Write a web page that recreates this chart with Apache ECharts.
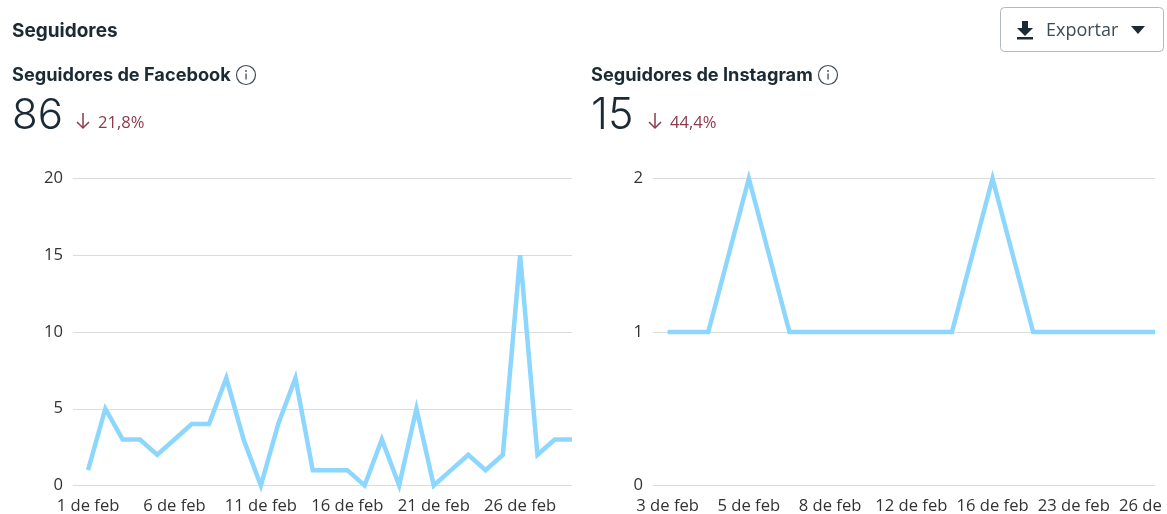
<!DOCTYPE html>
<html>
<head>
<meta charset="utf-8">
<style>html,body{margin:0;padding:0;background:#fff;overflow:hidden}#c{width:1167px;height:514px}</style>
<script src="https://cdn.jsdelivr.net/npm/echarts@6/dist/echarts.min.js"></script>
</head>
<body>
<div id="c"></div>
<script>
var fbDays = [1,2,3,4,5,6,7,8,9,10,11,12,13,14,15,16,17,18,19,20,21,22,23,24,25,26,27,28,29];
var fbValues = [1,5,3,3,2,3,4,4,7,3,0,4,7,1,1,1,0,3,0,5,0,1,2,1,2,15,2,3,3];
var fbTicks = [0,5,10,15,20];
var igDays = [3,4,5,7,8,10,12,14,16,20,23,25,26];
var igValues = [1,1,2,1,1,1,1,1,2,1,1,1,1];
var igTicks = [0,1,2];
var sectionTitle = 'Seguidores';
var exportLabel = 'Exportar';
var fbTitle = 'Seguidores de Facebook';
var igTitle = 'Seguidores de Instagram';
var fbTotal = '86', fbDelta = '21,8%';
var igTotal = '15', igDelta = '44,4%';

var ink = '#1c2b33', red = '#8c3a4c', lineCol = '#8dd7ff', gridCol = '#dadde0';
var uiFont = 'Inter, "Noto Sans", sans-serif';
var axisFont = '"Open Sans", "Noto Sans", sans-serif';
function idx(arr){ return arr.map(function(_, i){ return i; }); }
function dayLabel(d){ return d + ' de feb'; }
function txt(s, x, y, size, weight, col, font){
  return {type:'text', x:x, y:y, z:10, style:{text:s, fontSize:size, fontWeight:weight, fill:col, fontFamily:font||uiFont, verticalAlign:'middle', align:'left'}};
}
function info(cx, cy){
  return [
    {type:'circle', shape:{cx:cx, cy:cy, r:9.5}, z:10, style:{fill:'none', stroke:'#3f4c55', lineWidth:1.2}},
    {type:'rect', shape:{x:cx-0.6, y:cy-1.5, width:1.3, height:6}, z:10, style:{fill:'#3f4c55'}},
    {type:'circle', shape:{cx:cx, cy:cy-4, r:0.9}, z:10, style:{fill:'#3f4c55'}}
  ];
}
function arrow(cx, top, bottom){
  return {type:'polyline', z:10, shape:{points:[[cx,top],[cx,bottom]]}, style:{stroke:red, lineWidth:1.5, fill:'none'}};
}
function arrowHead(cx, bottom){
  return {type:'polyline', z:10, shape:{points:[[cx-6,bottom-6],[cx,bottom],[cx+6,bottom-6]]}, style:{stroke:red, lineWidth:1.5, fill:'none'}};
}
function xAxis(gridIndex, min, max, days, step){
  var shown = idx(days).filter(function(i){ return i % step === 0; });
  return {
    type:'value', gridIndex:gridIndex, min:min, max:max,
    axisLine:{show:false}, axisTick:{show:false}, splitLine:{show:false},
    axisLabel:{
      customValues:shown, margin:12, fontSize:16.6, color:'#333', fontFamily:axisFont,
      showMinLabel:true, showMaxLabel:true, hideOverlap:false,
      formatter:function(v){ return dayLabel(days[Math.round(v)]); }
    }
  };
}
function yAxis(gridIndex, ticks){
  return {
    type:'value', gridIndex:gridIndex, min:ticks[0], max:ticks[ticks.length-1],
    interval:ticks[1]-ticks[0],
    axisLine:{show:false}, axisTick:{show:false},
    splitLine:{show:true, lineStyle:{color:gridCol, width:1}},
    axisLabel:{margin:10, fontSize:16.6, color:'#333', fontFamily:axisFont}
  };
}
function lineSeries(i, values){
  return {
    type:'line', xAxisIndex:i, yAxisIndex:i, showSymbol:false, clip:false, silent:true,
    data:values.map(function(v, k){ return [k, v]; }),
    lineStyle:{color:lineCol, width:4.5, join:'miter', cap:'butt'}
  };
}
var graphics = [
  txt(sectionTitle, 12, 31, 19, 700, ink),
  txt(fbTitle, 12, 76, 18.2, 700, ink),
  txt(igTitle, 591, 76, 18.2, 700, ink),
  txt(fbTotal, 12, 116, 42, 300, ink),
  txt(igTotal, 591, 116, 43, 300, ink),
  txt(fbDelta, 98, 123, 16.6, 400, red, axisFont),
  txt(igDelta, 670, 123, 16.6, 400, red, axisFont),
  arrow(83, 113, 128), arrowHead(83, 128),
  arrow(655, 113, 128), arrowHead(655, 128),
  {type:'rect', z:10, shape:{x:1000.5, y:7.5, width:163, height:44, r:4}, style:{fill:'#fff', stroke:'#aeb9c4', lineWidth:1}},
  {type:'polygon', z:11, shape:{points:[[1022,21],[1028,21],[1028,28],[1033,28],[1025,36],[1017,28],[1022,28]]}, style:{fill:ink}},
  {type:'rect', z:11, shape:{x:1017, y:37, width:16, height:2.5}, style:{fill:ink}},
  txt(exportLabel, 1046, 31, 18, 400, '#3b4b57', axisFont),
  {type:'polygon', z:11, shape:{points:[[1131,26],[1145,26],[1138,34]]}, style:{fill:ink}},
  {type:'rect', z:100, shape:{x:1161, y:492, width:6, height:22}, style:{fill:'#fff'}}
].concat(info(246, 75)).concat(info(828, 75));

var chart = echarts.init(document.getElementById('c'), null, {renderer:'canvas'});
chart.setOption({
  animation:false,
  backgroundColor:'#fff',
  grid:[
    {left:73, top:178.5, width:499, height:307, outerBoundsMode:'none'},
    {left:653, top:178.5, width:502, height:307, outerBoundsMode:'none'}
  ],
  xAxis:[
    xAxis(0, -0.87, fbDays.length-1, fbDays, 5),
    xAxis(1, -0.36, igDays.length-1, igDays, 2)
  ],
  yAxis:[yAxis(0, fbTicks), yAxis(1, igTicks)],
  series:[lineSeries(0, fbValues), lineSeries(1, igValues)],
  graphic:graphics
});
</script>
</body>
</html>
